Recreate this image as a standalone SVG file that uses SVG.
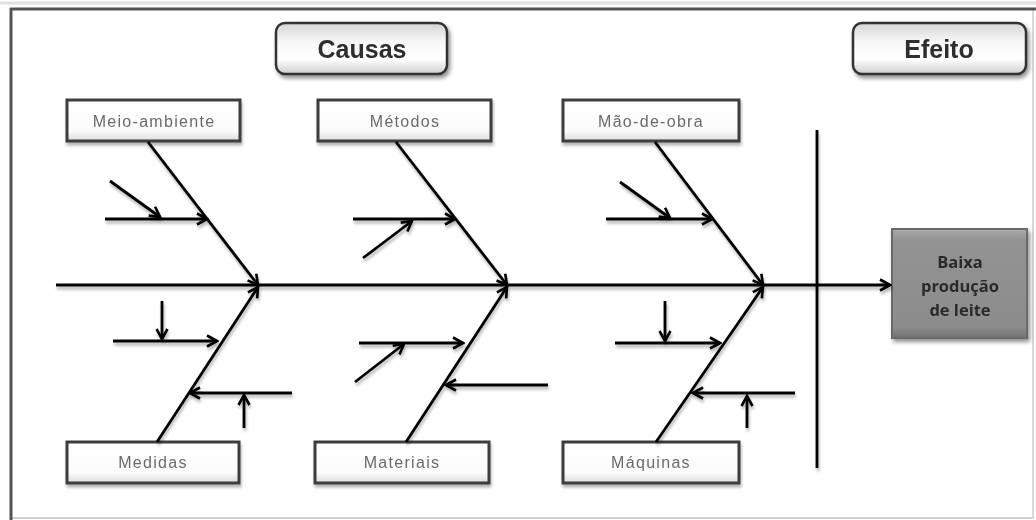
<svg xmlns="http://www.w3.org/2000/svg" width="1036" height="520" viewBox="0 0 1036 520">
<defs>
<linearGradient id="gTitle" x1="0" y1="0" x2="0" y2="1">
<stop offset="0" stop-color="#d4d4d4"/>
<stop offset="0.35" stop-color="#f6f6f6"/>
<stop offset="0.7" stop-color="#ffffff"/>
<stop offset="1" stop-color="#cfcfcf"/>
</linearGradient>
<linearGradient id="gLabel" x1="0" y1="0" x2="0" y2="1">
<stop offset="0" stop-color="#ffffff"/>
<stop offset="0.75" stop-color="#fbfbfb"/>
<stop offset="1" stop-color="#dcdcdc"/>
</linearGradient>
<linearGradient id="gEffect" x1="0" y1="0" x2="0" y2="1">
<stop offset="0" stop-color="#ababab"/>
<stop offset="0.1" stop-color="#939393"/>
<stop offset="0.9" stop-color="#8c8c8c"/>
<stop offset="1" stop-color="#727272"/>
</linearGradient>
<filter id="shadow" x="-10%" y="-20%" width="130%" height="150%">
<feGaussianBlur in="SourceAlpha" stdDeviation="2"/>
<feOffset dx="2" dy="3" result="b"/>
<feComponentTransfer><feFuncA type="linear" slope="0.45"/></feComponentTransfer>
<feMerge><feMergeNode/><feMergeNode in="SourceGraphic"/></feMerge>
</filter>
<filter id="lshadow" x="-10%" y="-10%" width="130%" height="130%">
<feGaussianBlur in="SourceAlpha" stdDeviation="1.5"/>
<feOffset dx="1" dy="3"/>
<feComponentTransfer><feFuncA type="linear" slope="0.3"/></feComponentTransfer>
<feMerge><feMergeNode/><feMergeNode in="SourceGraphic"/></feMerge>
</filter>
<marker id="arr" markerUnits="userSpaceOnUse" markerWidth="14" markerHeight="14" viewBox="0 0 14 14" refX="12" refY="7" orient="auto">
<path d="M2,1.5 L12,7 L2,12.5" fill="none" stroke="#000" stroke-width="2.6" stroke-linejoin="miter"/>
</marker>
</defs>
<style>
.title{fill:url(#gTitle);stroke:#333;stroke-width:2.5}
.ttext{font-family:"Liberation Sans",Arial,sans-serif;font-weight:bold;font-size:25px;fill:#2e2e2e;text-anchor:middle}
.lbl{fill:url(#gLabel);stroke:#3c3c3c;stroke-width:3}
.ltext{font-family:"Liberation Sans",Arial,sans-serif;font-size:16px;letter-spacing:1.3px;fill:#6a6a6a;text-anchor:middle}
.eff{fill:url(#gEffect);stroke:#6a6a6a;stroke-width:2}
.etext{font-family:"Open Sans","Liberation Sans",sans-serif;font-weight:bold;font-size:16.5px;fill:#2a2a2a;text-anchor:middle}
.ln{stroke:#000;stroke-width:2.8;fill:none}
.ar{stroke:#000;stroke-width:2.8;fill:none;marker-end:url(#arr)}
</style>
<rect width="1036" height="520" fill="#ffffff"/>
<g id="frame">
<line x1="1033" y1="9" x2="1033" y2="518" stroke="#d8d8d8" stroke-width="2"/>
<line x1="11" y1="518" x2="1033" y2="518" stroke="#d0d0d0" stroke-width="2"/>
<line x1="0" y1="3" x2="1036" y2="3" stroke="#e2e2e2" stroke-width="3"/>
<line x1="10" y1="9" x2="1036" y2="9" stroke="#555" stroke-width="3"/>
<line x1="11" y1="8" x2="11" y2="520" stroke="#555" stroke-width="3"/>
</g>
<g id="causas" filter="url(#shadow)">
<rect class="title" x="276" y="23" width="171" height="51" rx="9"/>
<text class="ttext" x="362" y="58">Causas</text>
</g>
<g id="efeito" filter="url(#shadow)">
<rect class="title" x="853" y="23" width="173" height="51" rx="9"/>
<text class="ttext" x="939" y="58">Efeito</text>
</g>
<g id="meio-ambiente" filter="url(#lshadow)">
<rect class="lbl" x="67" y="100" width="173" height="41"/>
<text class="ltext" x="154" y="127">Meio-ambiente</text>
</g>
<g id="metodos" filter="url(#lshadow)">
<rect class="lbl" x="318" y="100" width="173" height="41"/>
<text class="ltext" x="405" y="127">Métodos</text>
</g>
<g id="mao-de-obra" filter="url(#lshadow)">
<rect class="lbl" x="563" y="100" width="176" height="41"/>
<text class="ltext" x="651" y="127">Mão-de-obra</text>
</g>
<g id="medidas" filter="url(#lshadow)">
<rect class="lbl" x="67" y="442" width="172" height="41"/>
<text class="ltext" x="153" y="468">Medidas</text>
</g>
<g id="materiais" filter="url(#lshadow)">
<rect class="lbl" x="315" y="442" width="174" height="41"/>
<text class="ltext" x="402" y="468">Materiais</text>
</g>
<g id="maquinas" filter="url(#lshadow)">
<rect class="lbl" x="563" y="442" width="176" height="41"/>
<text class="ltext" x="651" y="468">Máquinas</text>
</g>
<g id="efeito-box" filter="url(#shadow)">
<rect class="eff" x="892" y="229" width="135" height="109"/>
<text class="etext" x="960" y="268">Baixa</text>
<text class="etext" x="960" y="292">produção</text>
<text class="etext" x="960" y="316">de leite</text>
</g>
<g id="connectors" filter="url(#lshadow)">
<line class="ar" x1="56" y1="285" x2="890" y2="285"/>
<line class="ln" x1="817" y1="130" x2="817" y2="468"/>
<line class="ar" x1="148" y1="142" x2="258" y2="285"/>
<line class="ar" x1="396" y1="142" x2="507" y2="285"/>
<line class="ar" x1="655" y1="142" x2="763" y2="285"/>
<line class="ar" x1="157" y1="442" x2="258" y2="287"/>
<line class="ar" x1="406" y1="442" x2="507" y2="287"/>
<line class="ar" x1="656" y1="442" x2="763" y2="287"/>
<line class="ar" x1="105" y1="219" x2="207" y2="219"/>
<line class="ar" x1="110" y1="181" x2="160" y2="217"/>
<line class="ar" x1="353" y1="219" x2="455" y2="219"/>
<line class="ar" x1="363" y1="258" x2="412" y2="221"/>
<line class="ar" x1="606" y1="219" x2="712" y2="219"/>
<line class="ar" x1="620" y1="182" x2="670" y2="218"/>
<line class="ar" x1="113" y1="341" x2="217" y2="341"/>
<line class="ar" x1="162" y1="301" x2="162" y2="339"/>
<line class="ar" x1="292" y1="393" x2="190" y2="393"/>
<line class="ar" x1="244" y1="428" x2="244" y2="395"/>
<line class="ar" x1="359" y1="343" x2="463" y2="343"/>
<line class="ar" x1="355" y1="382" x2="404" y2="344"/>
<line class="ar" x1="548" y1="385" x2="446" y2="385"/>
<line class="ar" x1="615" y1="343" x2="720" y2="343"/>
<line class="ar" x1="665" y1="301" x2="665" y2="341"/>
<line class="ar" x1="795" y1="393" x2="693" y2="393"/>
<line class="ar" x1="747" y1="428" x2="747" y2="396"/>
</g>
</svg>
